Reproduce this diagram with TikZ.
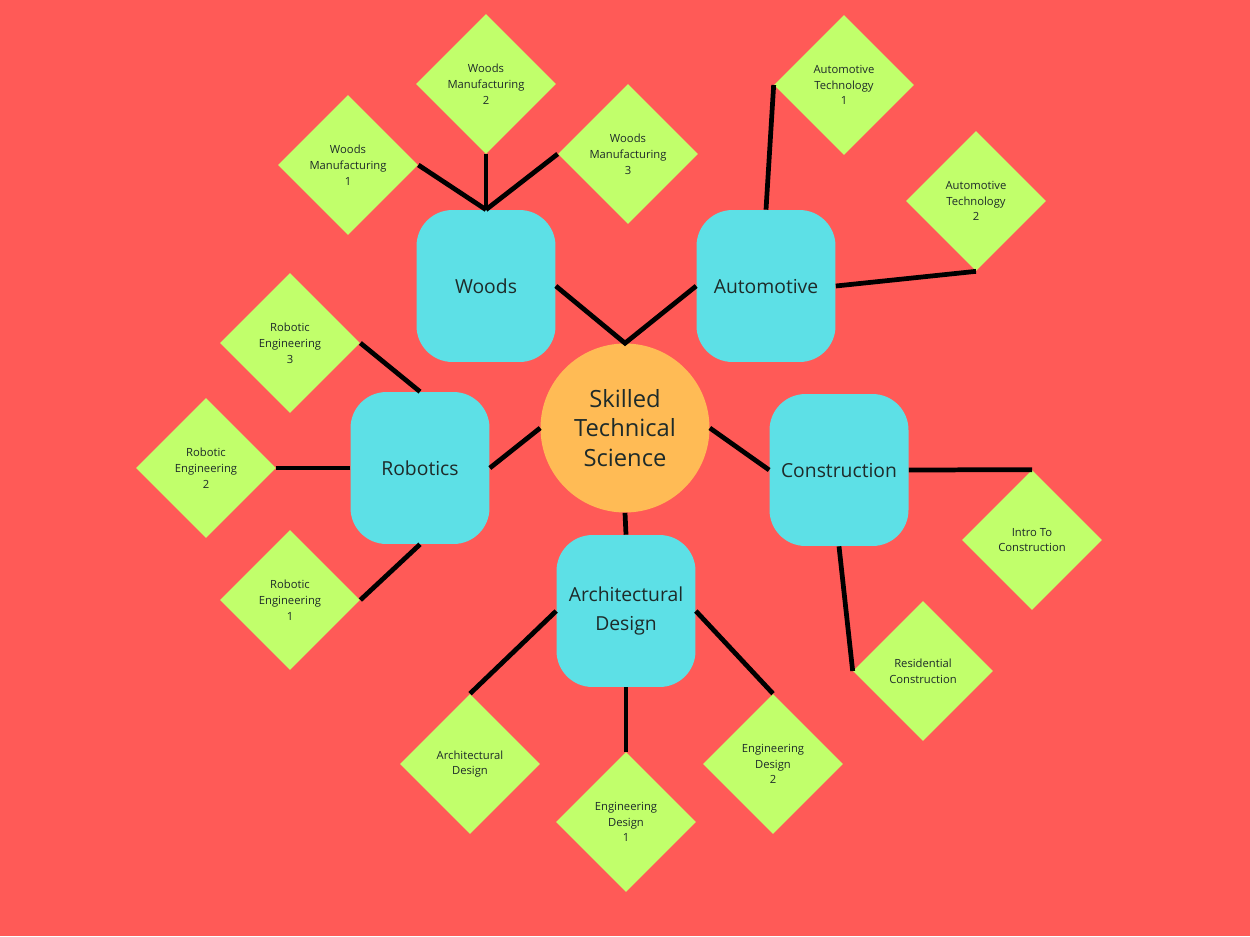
\documentclass[tikz,border=0pt]{standalone}
\usepackage{fontspec}
\setmainfont{Open Sans}
\usepackage{xcolor}
\usetikzlibrary{shapes.geometric,positioning}

\definecolor{bgred}{HTML}{FF5A57}
\definecolor{leafgreen}{HTML}{C1FF6B}
\definecolor{hubcyan}{HTML}{5DE0E6}
\definecolor{coreorange}{HTML}{FFBB55}
\definecolor{inkdark}{HTML}{1E2B2A}

\tikzset{
  core/.style={circle, fill=coreorange, minimum size=3.38cm, inner sep=0pt,
    align=center, font=\fontsize{13.5}{17}\selectfont, text=inkdark},
  hub/.style={rectangle, rounded corners=0.72cm, fill=hubcyan, minimum width=2.78cm,
    minimum height=3.04cm, inner sep=0pt, align=center,
    font=\fontsize{11}{16}\selectfont, text=inkdark},
  leaf/.style={diamond, fill=leafgreen, minimum width=2.8cm, minimum height=2.8cm,
    inner sep=0pt, align=center, font=\fontsize{6.4}{9}\selectfont, text=inkdark},
  link/.style={line width=2.7pt, black}
}

\begin{document}
\begin{tikzpicture}[x=0.02cm, y=-0.02cm]
% Background
\fill[bgred] (0,0) rectangle (1250,936);
\useasboundingbox (0,0) rectangle (1250,936);

% Centre and hubs
\node[core] (stc) at (625,428) {Skilled\\Technical\\Science};
\node[hub] (woods) at (486,286) {Woods};
\node[hub] (auto) at (766,286) {Automotive};
\node[hub] (rob) at (420,468) {Robotics};
\node[hub] (cons) at (839,470) {Construction};
\node[hub] (arch) at (626,611) {Architectural\\Design};

% Leaves
\node[leaf] (wm1) at (348,165) {Woods\\Manufacturing\\1};
\node[leaf] (wm2) at (486,84) {Woods\\Manufacturing\\2};
\node[leaf] (wm3) at (628,154) {Woods\\Manufacturing\\3};
\node[leaf] (at1) at (844,85) {Automotive\\Technology\\1};
\node[leaf] (at2) at (976,201) {Automotive\\Technology\\2};
\node[leaf] (re3) at (290,343) {Robotic\\Engineering\\3};
\node[leaf] (re2) at (206,468) {Robotic\\Engineering\\2};
\node[leaf] (re1) at (290,600) {Robotic\\Engineering\\1};
\node[leaf] (itc) at (1032,540) {Intro To\\Construction};
\node[leaf] (rc) at (923,671) {Residential\\Construction};
\node[leaf] (ad) at (470,764) {Architectural\\Design};
\node[leaf] (ed1) at (626,822) {Engineering\\Design\\1};
\node[leaf] (ed2) at (773,764) {Engineering\\Design\\2};

% Links
\draw[link] (woods.east) -- (stc.north) -- (auto.west);
\draw[link] (rob.east) -- (stc.west);
\draw[link] (stc.east) -- (cons.west);
\draw[link] (stc.south) -- (arch.north);

\draw[link] (woods.north) -- (wm1.east);
\draw[link] (woods.north) -- (wm2.south);
\draw[link] (woods.north) -- (wm3.west);
\draw[link] (auto.north) -- (at1.west);
\draw[link] (auto.east) -- (at2.south);
\draw[link] (rob.north) -- (re3.east);
\draw[link] (rob.west) -- (re2.east);
\draw[link] (rob.south) -- (re1.east);
\draw[link] (cons.east) -- (itc.north);
\draw[link] (cons.south) -- (rc.west);
\draw[link] (arch.west) -- (ad.north);
\draw[link] (arch.south) -- (ed1.north);
\draw[link] (arch.east) -- (ed2.north);
\end{tikzpicture}
\end{document}
